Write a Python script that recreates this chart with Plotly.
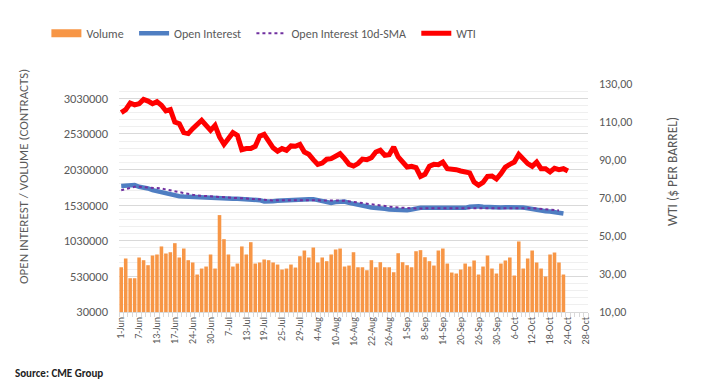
import plotly.graph_objects as go

# ---------------- data ----------------
tick_labels = ["1-Jun", "7-Jun", "13-Jun", "17-Jun", "24-Jun", "30-Jun", "7-Jul", "13-Jul",
               "19-Jul", "25-Jul", "29-Jul", "4-Aug", "10-Aug", "16-Aug", "22-Aug", "26-Aug",
               "1-Sep", "8-Sep", "14-Sep", "20-Sep", "26-Sep", "30-Sep", "6-Oct", "12-Oct",
               "18-Oct", "24-Oct", "28-Oct"]
label_step = 4  # one label every 4 trading days

volume = [658, 781, 504, 504, 795, 757, 687, 823, 837, 950,
          851, 869, 996, 795, 921, 757, 725, 556, 640, 668,
          837, 640, 1390, 1052, 837, 668, 710, 950, 837, 1010,
          710, 725, 767, 757, 725, 696, 626, 640, 696, 654,
          813, 893, 795, 935, 725, 795, 743, 837, 907, 921,
          668, 682, 869, 658, 658, 616, 757, 658, 729, 658,
          658, 588, 855, 729, 687, 658, 883, 898, 799, 743,
          682, 893, 921, 710, 584, 570, 626, 710, 668, 753,
          556, 668, 823, 640, 570, 710, 753, 795, 542, 1020,
          640, 781, 893, 725, 640, 528, 837, 865, 725, 556]  # thousands of contracts

open_interest = [1797, 1797, 1806, 1811, 1787, 1778, 1764, 1740, 1726, 1712,
                 1694, 1675, 1666, 1656, 1651, 1647, 1647, 1651, 1647, 1642,
                 1633, 1623, 1628, 1628, 1623, 1619, 1619, 1614, 1619, 1619,
                 1609, 1600, 1581, 1576, 1586, 1590, 1595, 1595, 1600, 1600,
                 1609, 1609, 1614, 1614, 1600, 1576, 1562, 1562, 1572, 1576,
                 1581, 1562, 1553, 1534, 1520, 1511, 1497, 1492, 1497, 1478,
                 1469, 1464, 1464, 1464, 1459, 1469, 1483, 1492, 1492, 1492,
                 1492, 1492, 1492, 1492, 1492, 1487, 1487, 1492, 1506, 1515,
                 1515, 1506, 1501, 1497, 1497, 1497, 1501, 1501, 1506, 1501,
                 1497, 1487, 1473, 1464, 1455, 1445, 1441, 1431, 1422, 1412]  # thousands

oi_sma10 = [1740, 1754, 1778, 1787, 1787, 1783, 1783, 1778, 1773, 1764,
            1750, 1736, 1722, 1708, 1698, 1684, 1675, 1666, 1661, 1656,
            1651, 1647, 1642, 1637, 1637, 1633, 1628, 1628, 1623, 1623,
            1619, 1614, 1609, 1600, 1595, 1600, 1600, 1600, 1604, 1604,
            1604, 1604, 1604, 1604, 1600, 1600, 1600, 1600, 1600, 1595,
            1590, 1586, 1576, 1567, 1558, 1548, 1539, 1534, 1525, 1515,
            1506, 1501, 1497, 1492, 1487, 1487, 1483, 1483, 1487, 1487,
            1487, 1487, 1487, 1487, 1487, 1487, 1487, 1492, 1492, 1492,
            1497, 1497, 1497, 1497, 1497, 1497, 1497, 1497, 1497, 1497,
            1497, 1492, 1487, 1483, 1478, 1469, 1464, 1459, 1455]  # thousands

wti = [114.9, 116.5, 120.0, 119.0, 119.6, 121.9, 121.0, 119.6, 120.7, 118.8,
       115.8, 116.5, 110.0, 109.1, 104.4, 103.9, 106.5, 109.1, 110.9, 108.2,
       105.6, 108.2, 102.1, 98.2, 101.2, 104.4, 103.0, 95.4, 96.0, 96.0,
       97.2, 102.5, 103.5, 99.5, 96.4, 94.6, 96.0, 95.1, 97.4, 97.2,
       98.2, 94.2, 93.0, 90.2, 87.7, 88.4, 90.4, 90.7, 91.9, 93.3,
       90.7, 87.7, 86.8, 88.1, 90.5, 90.2, 91.2, 94.2, 95.1, 92.5,
       92.8, 96.8, 91.6, 88.4, 86.3, 86.7, 86.0, 81.4, 82.5, 86.7,
       87.7, 87.5, 88.9, 85.4, 85.3, 84.9, 84.2, 83.5, 83.2, 78.4,
       76.7, 78.2, 81.4, 81.6, 80.0, 82.8, 86.3, 87.7, 88.9, 93.0,
       90.2, 88.1, 86.7, 88.9, 85.4, 85.4, 83.7, 85.6, 84.9, 85.4,
       84.2]

n_categories = (len(tick_labels) - 1) * label_step + 1

FONT = "Carlito, Lato, 'Liberation Sans', sans-serif"
GREY = "#595959"
ORANGE = "#F79646"
PAD = "\u00a0\u00a0"  # a little extra room after each legend label

fig = go.Figure()
fig.add_trace(go.Bar(
    x=list(range(len(volume))), y=[v * 1000 for v in volume],
    name="Volume", marker=dict(color=ORANGE, line=dict(width=0)),
    showlegend=False, legendgroup="vol",
))
# legend entry for the volume bars, drawn as a wide flat swatch like the original
fig.add_trace(go.Scatter(
    x=[None], y=[None], mode="lines", name="Volume" + PAD,
    line=dict(color=ORANGE, width=8), legendgroup="vol",
))
fig.add_trace(go.Scatter(
    x=list(range(len(open_interest))), y=[v * 1000 for v in open_interest],
    name="Open Interest" + PAD, mode="lines",
    line=dict(color="#4F7EC2", width=4.5),
))
fig.add_trace(go.Scatter(
    x=list(range(len(oi_sma10))), y=[v * 1000 for v in oi_sma10],
    name="Open Interest 10d-SMA" + PAD, mode="lines",
    line=dict(color="#7030A0", width=2, dash="dot"),
))
fig.add_trace(go.Scatter(
    x=list(range(len(wti))), y=wti, yaxis="y2",
    name="WTI", mode="lines",
    line=dict(color="#FF0000", width=5),
))

fig.update_layout(
    width=703, height=391,
    margin=dict(l=119, r=115, t=84, b=79, autoexpand=False),
    paper_bgcolor="white", plot_bgcolor="white",
    font=dict(family=FONT, color=GREY, size=11),
    separators=",.",
    bargap=0.2,
    showlegend=True,
    hovermode=False,
    legend=dict(
        orientation="h", xref="container", yref="container",
        x=0.066, y=0.915, xanchor="left", yanchor="middle",
        font=dict(size=12, color=GREY, family=FONT),
        itemwidth=30, traceorder="normal",
    ),
    xaxis=dict(
        range=[-0.5, n_categories - 0.5],
        automargin=False,
        tickmode="array",
        tickvals=list(range(0, n_categories, label_step)),
        ticktext=tick_labels,
        tickangle=-90,
        tickfont=dict(size=10, color=GREY),
        showgrid=False, zeroline=False,
        showline=True, linecolor="#d9d9d9", linewidth=1,
        ticks="",
        minor=dict(ticks="outside", tickmode="linear", tick0=-0.5, dtick=1,
                   ticklen=4, tickcolor="#d9d9d9", showgrid=False),
    ),
    yaxis=dict(
        range=[30000, 3230000],
        automargin=False,
        tick0=30000, dtick=500000, tickformat="d",
        tickfont=dict(size=12.5, color=GREY),
        showgrid=True, gridcolor="#d9d9d9", gridwidth=1,
        minor=dict(dtick=100000, tick0=30000, showgrid=True, gridcolor="#efefef"),
        zeroline=False, showline=False, ticks="",
        ticklabelstandoff=10,
    ),
    yaxis2=dict(
        overlaying="y", side="right",
        automargin=False,
        range=[10, 130], tick0=10, dtick=20, tickformat=".2f",
        tickfont=dict(size=12, color=GREY),
        showgrid=False, zeroline=False, showline=False, ticks="",
        ticklabelstandoff=10,
    ),
    annotations=[
        dict(text="OPEN INTEREST / VOLUME (CONTRACTS)", textangle=-90,
             xref="paper", yref="paper", x=(23 - 119) / 469, y=(312 - 177) / 228,
             xanchor="center", yanchor="middle", showarrow=False,
             font=dict(size=13, color=GREY, family=FONT)),
        dict(text="WTI ($ PER BARREL)", textangle=-90,
             xref="paper", yref="paper", x=(672 - 119) / 469, y=(312 - 172) / 228,
             xanchor="center", yanchor="middle", showarrow=False,
             font=dict(size=13.5, color=GREY, family=FONT)),
        dict(text="<b>Source: CME Group</b>",
             xref="paper", yref="paper", x=(13 - 119) / 469, y=(312 - 373) / 228,
             xanchor="left", yanchor="middle", showarrow=False,
             font=dict(size=11, color="#222222", family=FONT)),
    ],
)

fig.write_html("out.html",
               config={"displayModeBar": False, "staticPlot": True},
               post_script="document.body.style.margin='0';document.body.style.overflow='hidden';")
